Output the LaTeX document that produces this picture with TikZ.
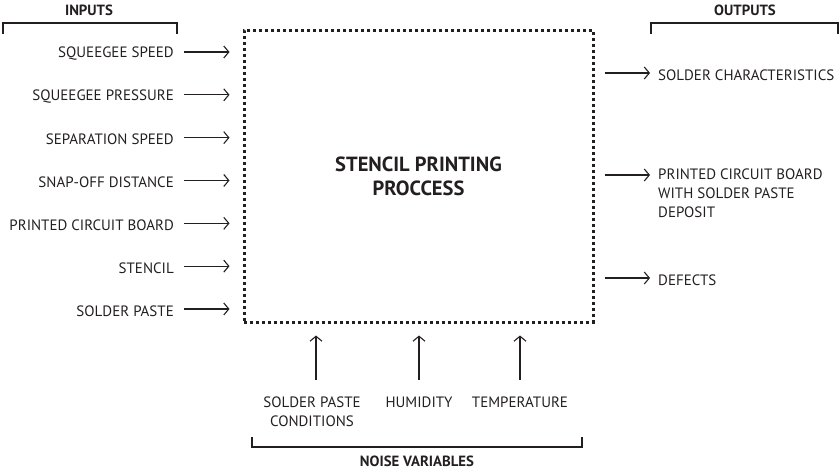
\documentclass[tikz,border=0pt]{standalone}
\usepackage{fontspec}
\setmainfont{PT Sans}
\usetikzlibrary{arrows.meta, positioning, calc}
\definecolor{inkgray}{RGB}{35, 31, 32}

\begin{document}
\begin{tikzpicture}[x=1pt, y=-1pt,
  lbl/.style={font=\fontsize{15}{19}\selectfont, text=inkgray, inner sep=0pt},
  head/.style={font=\bfseries\fontsize{14.8}{17}\selectfont, text=inkgray, inner sep=0pt},
  procbox/.style={draw=inkgray, line width=3pt, dash pattern=on 3.2pt off 2.8pt,
                  minimum width=349pt, minimum height=292pt, align=center,
                  font=\bfseries\fontsize{20.5}{24}\selectfont, text=inkgray},
  arr/.style={-{Straight Barb[length=5pt, width=12pt]}, line width=1.1pt, inkgray},
  brk/.style={line width=1.3pt, inkgray}
]
  \useasboundingbox (0,0) rectangle (840,472);

  % process box
  \node[procbox] (proc) at (418.5,176) {STENCIL PRINTING\\PROCCESS};

  % inputs
  \node[head] (inhead) at (89,10) {INPUTS};
  \coordinate (inL) at (3,34);
  \coordinate (inR) at (177,34);
  \draw[brk] (inL) -- ++(0,-11) -| (inR);
  \foreach \txt [count=\i] in {SQUEEGEE SPEED, SQUEEGEE PRESSURE, SEPARATION SPEED,
                               SNAP-OFF DISTANCE, PRINTED CIRCUIT BOARD, STENCIL, SOLDER PASTE} {
    \node[lbl, anchor=east] (in\i) at (174,{54+(\i-1)*42.83}) {\txt};
    \draw[arr] ([xshift=10pt, yshift=2pt]in\i.east) -- ([xshift=-13pt, yshift=2pt]in\i.east -| proc.west);
  }

  % outputs
  \node[head] (outhead) at (745,10) {OUTPUTS};
  \coordinate (outL) at (651,34);
  \coordinate (outR) at (838,34);
  \draw[brk] (outL) -- ++(0,-11) -| (outR);
  \node[lbl, anchor=west] (out1) at (658,75) {SOLDER CHARACTERISTICS};
  \node[lbl, anchor=north west, align=left] (out2) at (658,169)
    {PRINTED CIRCUIT BOARD\\WITH SOLDER PASTE\\DEPOSIT};
  \node[lbl, anchor=west] (out3) at (658,280) {DEFECTS};
  \draw[arr] ([xshift=10pt, yshift=2pt]proc.east |- out1.west) -- ([xshift=-8pt, yshift=2pt]out1.west);
  \draw[arr] ([xshift=10pt]proc.east |- 0,175) -- (650,175);
  \draw[arr] ([xshift=10pt, yshift=2pt]proc.east |- out3.west) -- ([xshift=-8pt, yshift=2pt]out3.west);

  % noise variables
  \node[lbl, anchor=north, align=center] (nz1) at (312,397) {SOLDER PASTE\\CONDITIONS};
  \node[lbl, anchor=north] (nz2) at (419,397) {HUMIDITY};
  \node[lbl, anchor=north] (nz3) at (520,397) {TEMPERATURE};
  \draw[arr] (316,380) -- ([yshift=-12pt]proc.south -| 316,0);
  \draw[arr] ([yshift=17pt]nz2.north) -- ([yshift=-12pt]proc.south -| nz2.north);
  \draw[arr] ([yshift=17pt]nz3.north) -- ([yshift=-12pt]proc.south -| nz3.north);
  \coordinate (nzL) at (252,437);
  \coordinate (nzR) at (582,437);
  \draw[brk] (nzL) -- ++(0,10) -| (nzR);
  \node[head] (nzhead) at (417,461) {NOISE VARIABLES};
\end{tikzpicture}
\end{document}
